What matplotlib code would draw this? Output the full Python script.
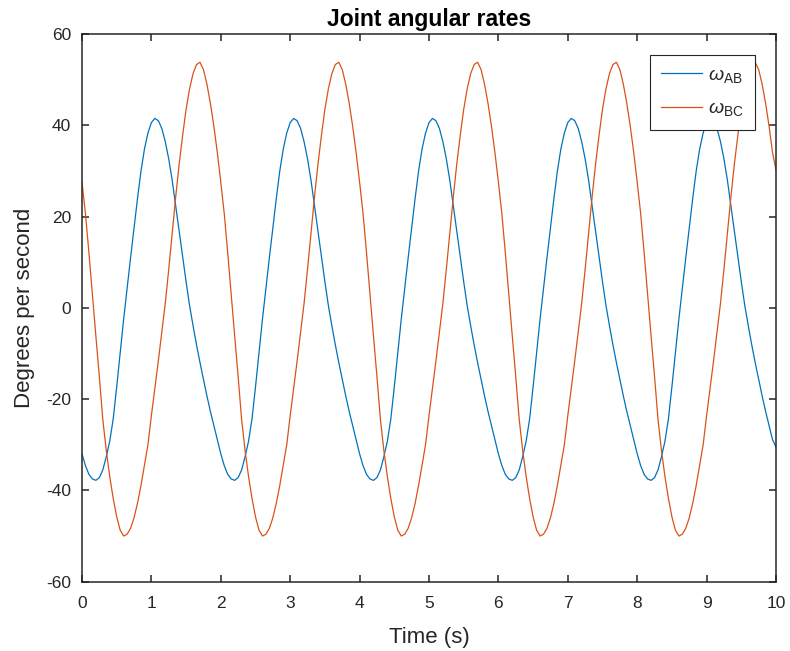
import matplotlib.pyplot as plt
import numpy as np

# One 2 s cycle of each joint rate, sampled every 0.05 s [deg/s]
omega_ab_cycle = [
    -32.0, -34.6, -36.5, -37.5, -37.8, -37.2, -35.5, -32.6, -29.2, -24.3,
    -17.3, -9.8, -2.5, 4.3, 11.0, 17.5, 24.0, 30.0, 34.8, 38.3,
    40.6, 41.5, 41.0, 39.3, 36.4, 32.6, 27.9, 22.4, 16.8, 11.2,
    5.7, 0.5, -3.9, -8.1, -12.0, -15.7, -19.3, -22.7, -25.8, -28.9,
]
omega_bc_cycle = [
    27.5, 20.6, 12.0, 2.8, -6.2, -15.1, -24.5, -31.3, -37.0, -41.8,
    -45.8, -48.7, -50.0, -49.6, -48.3, -46.0, -42.8, -38.9, -34.5, -30.0,
    -23.6, -17.6, -11.6, -5.4, 1.0, 8.5, 16.5, 24.3, 31.5, 37.8,
    43.5, 48.0, 51.3, 53.3, 53.8, 52.2, 49.0, 44.8, 39.8, 34.0,
]
n_cycles = 5
# last samples at t = 10 s
omega_ab_end = -30.5
omega_bc_end = 30.2

time = np.linspace(0.0, 10.0, len(omega_ab_cycle) * n_cycles + 1)
omega_ab = np.append(np.tile(omega_ab_cycle, n_cycles), omega_ab_end)
omega_bc = np.append(np.tile(omega_bc_cycle, n_cycles), omega_bc_end)

plt.rcParams["font.family"] = "Liberation Sans"
plt.rcParams["mathtext.fontset"] = "custom"
plt.rcParams["mathtext.rm"] = "Liberation Sans"
plt.rcParams["mathtext.it"] = "Liberation Sans:italic"
plt.rcParams["axes.unicode_minus"] = False

text_color = "#262626"

fig = plt.figure(figsize=(7.9, 6.51), dpi=100)
ax = fig.add_axes([0.1038, 0.1065, 0.8785, 0.8413])

ax.plot(time, omega_ab, color="#0072BD", linewidth=0.9, label=r"$\omega_{\rm AB}$")
ax.plot(time, omega_bc, color="#D95319", linewidth=0.9, label=r"$\omega_{\rm BC}$")

ax.set_xlim(0, 10)
ax.set_ylim(-60, 60)
ax.set_xticks(np.arange(0, 11, 1))
ax.set_yticks(np.arange(-60, 61, 20))
ax.tick_params(direction="in", length=5, width=1.1, top=True, right=True,
               labelsize=12.5, colors=text_color)
ax.tick_params(axis="x", pad=10)
ax.tick_params(axis="y", pad=8)
for spine in ax.spines.values():
    spine.set_color(text_color)
    spine.set_linewidth(1.1)

ax.set_xlabel("Time (s)", fontsize=16, color=text_color, labelpad=12)
ax.set_ylabel("Degrees per second", fontsize=16, color=text_color, labelpad=8)
ax.set_title("Joint angular rates", fontsize=16.5, fontweight="bold",
             color="black", pad=6)

leg = ax.legend(loc="upper right", bbox_to_anchor=(0.970, 0.9617),
                borderaxespad=0, fontsize=14, fancybox=False, framealpha=1,
                edgecolor=text_color, handlelength=2.1, handletextpad=0.3,
                labelspacing=0.75, borderpad=0.6)
leg.get_frame().set_linewidth(0.8)
for text in leg.get_texts():
    text.set_color(text_color)

fig.savefig("out.png", dpi=100)
